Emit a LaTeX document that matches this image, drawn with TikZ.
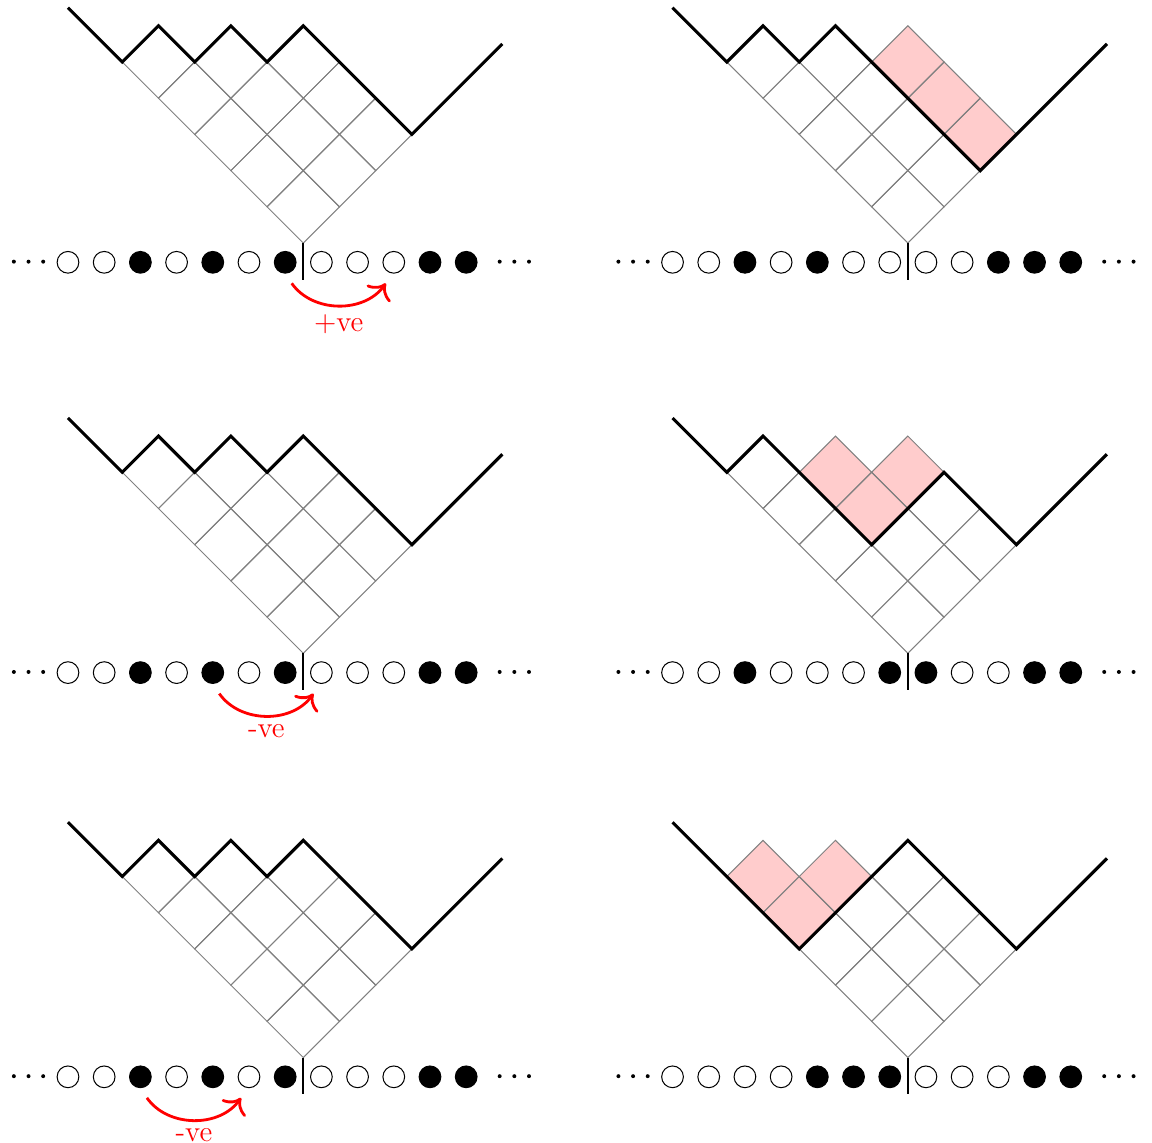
\documentclass[tikz,border=0pt]{standalone}
\usetikzlibrary{calc,arrows.meta}
\tikzset{
  gridline/.style={draw=gray, line width=0.4pt},
  profile/.style={line width=1.2pt, line join=miter},
  cutline/.style={line width=0.8pt},
  removed/.style={fill=red!20},
  site0/.style={circle, draw, line width=0.4pt, minimum size=3mm, inner sep=0pt, outer sep=0pt},
  site1/.style={site0, fill=black},
  hop/.style={-{To[scale=1.35]}, red, line width=1.1pt},
  hoplabel/.style={red, below, font=\fontsize{11.5}{14}\selectfont, inner sep=2.8pt},
}
\newcommand\gridcells{%
  \foreach \i/\j in {0/0,1/0,2/0,0/1,1/1,2/1,0/2,1/2,2/2,0/3,1/3,0/4} {
    \draw[gridline] ({\i-\j},{\i+\j}) -- ++(1,1) -- ++(-1,1) -- ++(-1,-1) -- cycle;
  }%
}
\newcommand\pinkcells[2]{%
  \begin{scope}[shift={#1}]
    \foreach \bx/\by in {#2} {
      \fill[removed] (\bx,\by) -- ++(1,1) -- ++(-1,1) -- ++(-1,-1) -- cycle;
    }
  \end{scope}%
}
\newcommand\panel[4]{%
  \begin{scope}[shift={#2}]
    \gridcells
    \draw[profile] #3;
    \draw[cutline] (0,0) -- (0,-1.02);
    \foreach \s [count=\k] in {#4} {
      \node[site\s] (#1-\k) at ({\k-7.5},-0.533) {};
    }
    \foreach \d in {-0.405,0,0.405} {
      \fill ({-7.59+\d},-0.515) circle (0.055);
      \fill ({5.83+\d},-0.515) circle (0.055);
    }
  \end{scope}%
}
\begin{document}
\begin{tikzpicture}[x=0.5cm,y=0.5cm]
\useasboundingbox (-8.378,-24.834) rectangle (23.445,6.713);

% left column
\panel{TL}{(0,0)}{(-6.5,6.5) -- (-5,5) -- (-4,6) -- (-3,5) -- (-2,6) -- (-1,5) -- (0,6) -- (3,3) -- (5.5,5.5)}{0,0,1,0,1,0,1,0,0,0,1,1}
\panel{ML}{(0,-11.334)}{(-6.5,6.5) -- (-5,5) -- (-4,6) -- (-3,5) -- (-2,6) -- (-1,5) -- (0,6) -- (3,3) -- (5.5,5.5)}{0,0,1,0,1,0,1,0,0,0,1,1}
\panel{BL}{(0,-22.5)}{(-6.5,6.5) -- (-5,5) -- (-4,6) -- (-3,5) -- (-2,6) -- (-1,5) -- (0,6) -- (3,3) -- (5.5,5.5)}{0,0,1,0,1,0,1,0,0,0,1,1}

% right column
\pinkcells{(16.7,0)}{0/4,1/3,2/2}
\panel{TR}{(16.7,0)}{(-6.5,6.5) -- (-5,5) -- (-4,6) -- (-3,5) -- (-2,6) -- (2,2) -- (5.5,5.5)}{0,0,1,0,1,0,0,0,0,1,1,1}
\pinkcells{(16.7,-11.334)}{-2/4,0/4,-1/3}
\panel{MR}{(16.7,-11.334)}{(-6.5,6.5) -- (-5,5) -- (-4,6) -- (-1,3) -- (1,5) -- (3,3) -- (5.5,5.5)}{0,0,1,0,0,0,1,1,0,0,1,1}
\pinkcells{(16.7,-22.5)}{-4/4,-2/4,-3/3}
\panel{BR}{(16.7,-22.5)}{(-6.5,6.5) -- (-3,3) -- (0,6) -- (3,3) -- (5.5,5.5)}{0,0,0,0,1,1,1,0,0,0,1,1}

% hops
\draw[hop] ($(TL-7)+(0.18,-0.58)$) to[bend right=55] node[hoplabel] {+ve} ($(TL-10)+(-0.22,-0.58)$);
\draw[hop] ($(ML-5)+(0.18,-0.58)$) to[bend right=55] node[hoplabel] {-ve} ($(ML-8)+(-0.22,-0.58)$);
\draw[hop] ($(BL-3)+(0.18,-0.58)$) to[bend right=55] node[hoplabel] {-ve} ($(BL-6)+(-0.22,-0.58)$);
\end{tikzpicture}
\end{document}
